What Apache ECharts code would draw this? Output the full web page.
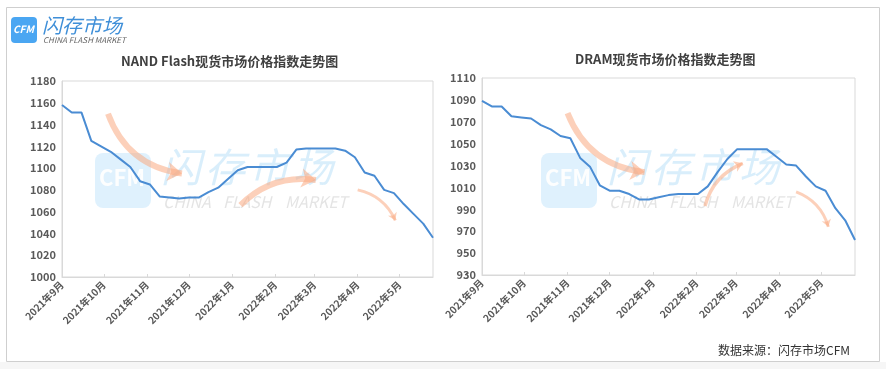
<!DOCTYPE html>
<html>
<head>
<meta charset="utf-8">
<script src="https://cdn.jsdelivr.net/npm/echarts@6/dist/echarts.min.js"></script>
<style>
  html, body { margin: 0; padding: 0; background: #fff; }
  #main { width: 886px; height: 369px; }
</style>
</head>
<body>
<div id="main"></div>
<script>
// 周度日期（每周三）
const weekDates = [
  "2021-09-01", "2021-09-08", "2021-09-15", "2021-09-22", "2021-09-29",
  "2021-10-06", "2021-10-13", "2021-10-20", "2021-10-27",
  "2021-11-03", "2021-11-10", "2021-11-17", "2021-11-24",
  "2021-12-01", "2021-12-08", "2021-12-15", "2021-12-22", "2021-12-29",
  "2022-01-05", "2022-01-12", "2022-01-19", "2022-01-26",
  "2022-02-02", "2022-02-09", "2022-02-16", "2022-02-23",
  "2022-03-02", "2022-03-09", "2022-03-16", "2022-03-23", "2022-03-30",
  "2022-04-06", "2022-04-13", "2022-04-20", "2022-04-27",
  "2022-05-04", "2022-05-11", "2022-05-18", "2022-05-25",
];

// NAND Flash 现货价格指数
const nandIndex = [
  1158, 1151, 1151, 1125, 1120, 1115, 1108, 1101, 1088, 1085,
  1074, 1073, 1072, 1073, 1073, 1078, 1082, 1090, 1098, 1101,
  1101, 1101, 1101, 1105, 1117, 1118, 1118, 1118, 1118, 1116,
  1110, 1096, 1093, 1080, 1077, 1067, 1058, 1049, 1036,
];

// DRAM 现货价格指数
const dramIndex = [
  1089, 1084, 1084, 1075, 1074, 1073, 1067, 1063, 1057, 1055,
  1037, 1029, 1012, 1007, 1007, 1004, 999, 999, 1001, 1003,
  1004, 1004, 1004, 1011, 1024, 1036, 1045, 1045, 1045, 1045,
  1038, 1031, 1030, 1020, 1011, 1007, 991, 980, 962,
];

// 趋势箭头：起点、终点、粗细、弯曲度
const nandArrows = [
  [["2021-10-04", 1150], ["2021-11-26", 1095], 6, -0.3],
  [["2022-01-07", 1066], ["2022-03-02", 1089], 6, 0.25],
  [["2022-04-01", 1080], ["2022-04-28", 1052], 3, 0.25],
];
const dramArrows = [
  [["2021-11-01", 1078], ["2021-12-26", 1024], 6, -0.3],
  [["2022-02-07", 993], ["2022-03-06", 1032], 3.5, 0.25],
  [["2022-04-13", 1006], ["2022-05-06", 974], 3, 0.25],
];

const FONT = "Noto Sans CJK SC";
const axisGray = "#d9d9d9";
const labelGray = "#595959";
const lineBlue = "#4a8cd3";
const arrowColor = "rgba(250, 170, 130, 0.55)";

function monthLabel(v) {
  const d = new Date(v);
  return d.getFullYear() + "年" + (d.getMonth() + 1) + "月";
}

function xAxisOf(gridIndex) {
  return {
    type: "time",
    gridIndex,
    min: "2021-09-01",
    max: "2022-05-25",
    minInterval: 28 * 86400000,
    maxInterval: 31 * 86400000,
    splitNumber: 9,
    axisLine: { lineStyle: { color: axisGray } },
    axisTick: { show: true, inside: true, length: 3, lineStyle: { color: axisGray } },
    splitLine: { show: false },
    axisLabel: {
      rotate: 45,
      color: labelGray,
      fontSize: 10,
      fontWeight: "bold",
      fontFamily: FONT,
      margin: 6,
      hideOverlap: false,
      showMaxLabel: false,
      formatter: monthLabel,
    },
  };
}

function yAxisOf(gridIndex, min, max) {
  return {
    type: "value",
    gridIndex,
    min,
    max,
    interval: 20,
    axisLine: { show: true, lineStyle: { color: axisGray } },
    axisTick: { show: false },
    splitLine: { show: false },
    axisLabel: {
      color: labelGray,
      fontSize: 11,
      fontWeight: "bold",
      fontFamily: FONT,
      margin: 6,
      formatter: (v) => String(v),
    },
  };
}

// 弯曲箭头用 lines 系列画在直角坐标系里
function arrowSeries(axisIndex, list) {
  return {
    type: "lines",
    coordinateSystem: "cartesian2d",
    xAxisIndex: axisIndex,
    yAxisIndex: axisIndex,
    silent: true,
    symbol: ["none", "arrow"],
    z: 3,
    data: list.map((a) => ({
      coords: [a[0], a[1]],
      symbolSize: a[2] * 2.4,
      lineStyle: { color: arrowColor, width: a[2], curveness: a[3], opacity: 1 },
    })),
  };
}

function txt(left, top, text, fill, size, extra) {
  return {
    type: "text",
    left,
    top,
    style: Object.assign({ text, fill, fontSize: size, fontFamily: FONT }, extra || {}),
  };
}

// 背景水印（logo）
function watermark(left, top) {
  const blue = "rgba(120, 195, 240, 0.28)";
  const gray = "rgba(190, 190, 190, 0.42)";
  const items = [
    {
      type: "rect",
      left,
      top,
      shape: { width: 56, height: 55, r: 8 },
      style: { fill: "rgba(110, 190, 245, 0.22)" },
    },
    txt(left + 4, top + 14, "CFM", "rgba(255,255,255,0.95)", 22, { fontWeight: "bold" }),
  ];
  ["闪", "存", "市", "场"].forEach((ch, i) => {
    items.push(txt(left + 66 + i * 44, top - 6, ch, blue, 40, { fontStyle: "italic" }));
  });
  [["CHINA", 68], ["FLASH", 128], ["MARKET", 190]].forEach(([w, dx]) => {
    items.push(txt(left + dx, top + 41, w, gray, 16, { fontStyle: "italic" }));
  });
  return items.map((it) => Object.assign(it, { z: 0 }));
}

const chart = echarts.init(document.getElementById("main"));

chart.setOption({
  animation: false,
  title: [
    {
      text: "NAND Flash现货市场价格指数走势图",
      left: 116,
      top: 50,
      textStyle: { fontSize: 13, fontWeight: "bold", color: "#404040", fontFamily: FONT },
    },
    {
      text: "DRAM现货市场价格指数走势图",
      left: 570,
      top: 48,
      textStyle: { fontSize: 13, fontWeight: "bold", color: "#404040", fontFamily: FONT },
    },
  ],
  grid: [
    { left: 62, top: 81, width: 371, height: 196, show: true, borderColor: axisGray, borderWidth: 1 },
    { left: 482, top: 78, width: 373, height: 197, show: true, borderColor: axisGray, borderWidth: 1 },
  ],
  xAxis: [xAxisOf(0), xAxisOf(1)],
  yAxis: [yAxisOf(0, 1000, 1180), yAxisOf(1, 930, 1110)],
  series: [
    {
      name: "NAND Flash",
      type: "line",
      xAxisIndex: 0,
      yAxisIndex: 0,
      data: weekDates.map((d, i) => [d, nandIndex[i]]),
      showSymbol: false,
      lineStyle: { color: lineBlue, width: 2 },
      z: 5,
    },
    {
      name: "DRAM",
      type: "line",
      xAxisIndex: 1,
      yAxisIndex: 1,
      data: weekDates.map((d, i) => [d, dramIndex[i]]),
      showSymbol: false,
      lineStyle: { color: lineBlue, width: 2 },
      z: 5,
    },
    arrowSeries(0, nandArrows),
    arrowSeries(1, dramArrows),
  ],
  graphic: [
    // 外框
    {
      type: "rect",
      left: 4,
      top: 5,
      shape: { width: 873, height: 354 },
      style: { fill: "none", stroke: "#cfcfcf", lineWidth: 1 },
      z: -1,
    },
    {
      type: "rect",
      left: 0,
      top: 362,
      shape: { width: 886, height: 7 },
      style: { fill: "#f6f6f6" },
      z: -1,
    },
    // 左上角标志
    {
      type: "rect",
      left: 11,
      top: 17,
      shape: { width: 26, height: 26, r: 4 },
      style: { fill: "#4aa6f2" },
    },
    txt(13, 24, "CFM", "#fff", 10, { fontStyle: "italic", fontWeight: "bold" }),
    txt(42, 15, "闪存市场", "#3f8fd8", 20, { fontStyle: "italic" }),
    txt(43, 36, "CHINA FLASH MARKET", "#666", 8, { fontStyle: "italic" }),
    ...watermark(95, 153),
    ...watermark(541, 153),
    txt(718, 344, "数据来源：闪存市场CFM", "#333", 12),
  ],
});
</script>
</body>
</html>
